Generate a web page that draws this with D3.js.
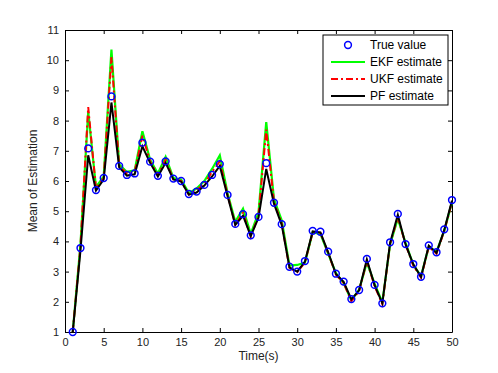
<!DOCTYPE html>
<html>
<head>
<meta charset="utf-8">
<script src="https://cdn.jsdelivr.net/npm/d3@7"></script>
<style>
  body { margin: 0; background: #fff; }
  svg text { font-family: "Liberation Sans", Arial, sans-serif; }
</style>
</head>
<body>
<script>
// time steps and estimates
var time = d3.range(1, 51);

var trueValue = [1.0, 3.78, 7.08, 5.70, 6.10, 8.80, 6.50, 6.20, 6.25, 7.27,
                 6.64, 6.17, 6.65, 6.08, 6.00, 5.57, 5.65, 5.87, 6.20, 6.56,
                 5.54, 4.58, 4.90, 4.20, 4.81, 6.59, 5.28, 4.57, 3.16, 3.00,
                 3.35, 4.35, 4.32, 3.66, 2.93, 2.67, 2.09, 2.39, 3.42, 2.56,
                 1.95, 3.97, 4.91, 3.91, 3.25, 2.83, 3.87, 3.64, 4.40, 5.37];

var ekf = [1.0, 3.90, 8.30, 5.80, 6.15, 10.35, 6.55, 6.30, 6.35, 7.65,
           6.70, 6.25, 6.80, 6.10, 6.05, 5.60, 5.75, 6.00, 6.40, 6.85,
           5.60, 4.65, 5.08, 4.25, 4.95, 7.95, 5.40, 4.70, 3.20, 3.22,
           3.30, 4.30, 4.25, 3.60, 2.95, 2.62, 2.05, 2.40, 3.30, 2.60,
           1.98, 3.90, 4.75, 3.95, 3.22, 2.85, 3.82, 3.66, 4.35, 5.30];

var ukf = [1.0, 3.85, 8.45, 5.75, 6.10, 10.10, 6.50, 6.25, 6.30, 7.50,
           6.65, 6.20, 6.70, 6.05, 6.00, 5.55, 5.70, 5.90, 6.30, 6.65,
           5.55, 4.55, 4.95, 4.15, 4.85, 7.70, 5.30, 4.60, 3.12, 2.98,
           3.30, 4.30, 4.28, 3.62, 2.90, 2.62, 2.02, 2.36, 3.35, 2.52,
           1.92, 3.92, 4.80, 3.90, 3.20, 2.80, 3.82, 3.60, 4.35, 5.30];

var pf = [1.0, 3.70, 6.85, 5.68, 6.05, 8.60, 6.45, 6.18, 6.22, 7.15,
          6.60, 6.15, 6.60, 6.05, 5.98, 5.55, 5.62, 5.85, 6.15, 6.50,
          5.50, 4.55, 4.85, 4.18, 4.78, 6.40, 5.25, 4.55, 3.14, 3.00,
          3.33, 4.33, 4.30, 3.64, 2.92, 2.66, 2.08, 2.38, 3.40, 2.55,
          1.95, 3.95, 4.88, 3.90, 3.24, 2.82, 3.86, 3.62, 4.38, 5.35];

var xTicks = d3.range(0, 51, 5);
var yTicks = d3.range(1, 12, 1);

var legendLabels = ["True value", "EKF estimate", "UKF estimate", "PF estimate"];

// ---- layout
var W = 498, H = 373;
var margin = {top: 30, right: 46, bottom: 41, left: 65};
var width = W - margin.left - margin.right,
    height = H - margin.top - margin.bottom;

var svg = d3.select("body").append("svg")
    .attr("width", W)
    .attr("height", H);

var g = svg.append("g")
    .attr("transform", "translate(" + margin.left + "," + margin.top + ")");

var x = d3.scaleLinear().domain([0, 50]).range([0, width]);
var y = d3.scaleLinear().domain([1, 11]).range([height, 0]);

// axes, matlab style: ticks pointing inward, box on all sides
var tickLen = 4;
g.append("g")
    .attr("transform", "translate(0," + height + ")")
    .call(d3.axisBottom(x).tickValues(xTicks).tickSizeInner(-tickLen).tickSizeOuter(0).tickPadding(6))
    .call(styleAxis);
g.append("g")
    .call(d3.axisTop(x).tickValues(xTicks).tickSizeInner(-tickLen).tickSizeOuter(0).tickFormat(""))
    .call(styleAxis);
g.append("g")
    .call(d3.axisLeft(y).tickValues(yTicks).tickSizeInner(-tickLen).tickSizeOuter(0).tickPadding(6))
    .call(styleAxis);
g.append("g")
    .attr("transform", "translate(" + width + ",0)")
    .call(d3.axisRight(y).tickValues(yTicks).tickSizeInner(-tickLen).tickSizeOuter(0).tickFormat(""))
    .call(styleAxis);

function styleAxis(sel) {
  sel.select(".domain").attr("stroke", "#000").attr("stroke-width", 1);
  sel.selectAll(".tick line").attr("stroke", "#000");
  sel.selectAll("text").attr("fill", "#222").style("font-size", "11px");
}

// axis labels
svg.append("text")
    .attr("x", margin.left + width / 2)
    .attr("y", 360)
    .attr("text-anchor", "middle")
    .style("font-size", "12px")
    .attr("fill", "#222")
    .text("Time(s)");

svg.append("text")
    .attr("transform", "translate(37," + (margin.top + height / 2) + ") rotate(-90)")
    .attr("text-anchor", "middle")
    .style("font-size", "12px")
    .attr("fill", "#222")
    .text("Mean of Estimation");

// lines
var line = function(vals) {
  return d3.line()
    .x(function(d, i) { return x(time[i]); })
    .y(function(d) { return y(d); })(vals);
};

g.append("path").attr("d", line(ekf))
    .attr("fill", "none").attr("stroke", "#00ff00").attr("stroke-width", 2.2);
g.append("path").attr("d", line(ukf))
    .attr("fill", "none").attr("stroke", "#ff0000").attr("stroke-width", 2)
    .attr("stroke-dasharray", "7,3,2,3");
g.append("path").attr("d", line(pf))
    .attr("fill", "none").attr("stroke", "#000").attr("stroke-width", 2);

g.selectAll(".truept")
    .data(trueValue)
  .enter().append("circle")
    .attr("class", "truept")
    .attr("cx", function(d, i) { return x(time[i]); })
    .attr("cy", function(d) { return y(d); })
    .attr("r", 3.4)
    .attr("fill", "none")
    .attr("stroke", "#0000ff")
    .attr("stroke-width", 1.5);

// legend
var lg = svg.append("g").attr("transform", "translate(323,35)");
lg.append("rect")
    .attr("width", 125).attr("height", 70)
    .attr("fill", "#fff").attr("stroke", "#000").attr("stroke-width", 1);

var rowY = [10, 27, 44, 61];
legendLabels.forEach(function(lbl, i) {
  var ry = rowY[i];
  if (i === 0) {
    lg.append("circle").attr("cx", 25).attr("cy", ry).attr("r", 3.4)
      .attr("fill", "none").attr("stroke", "#0000ff").attr("stroke-width", 1.5);
  } else {
    var colors = [null, "#00ff00", "#ff0000", "#000"];
    var ln = lg.append("line").attr("x1", 8).attr("x2", 42).attr("y1", ry).attr("y2", ry)
      .attr("stroke", colors[i]).attr("stroke-width", 2);
    if (i === 2) ln.attr("stroke-dasharray", "7,3,2,3");
  }
  lg.append("text").attr("x", 47).attr("y", ry + 4)
    .style("font-size", "12px").attr("fill", "#000").text(lbl);
});
</script>
</body>
</html>
